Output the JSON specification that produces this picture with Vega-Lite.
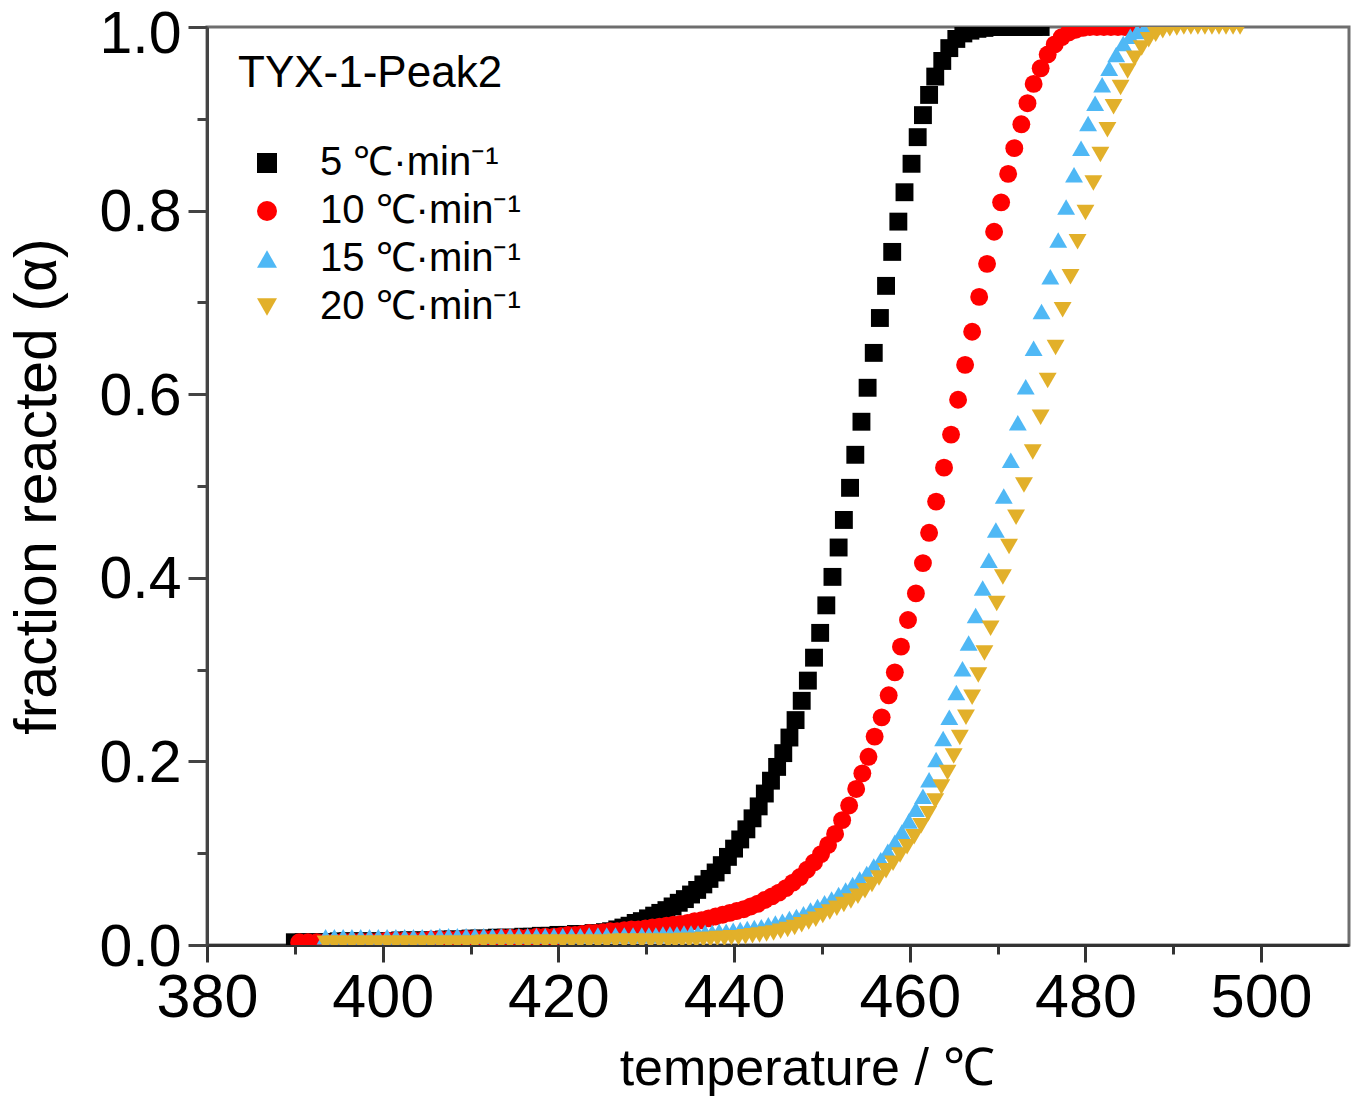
{
"$schema":"https://vega.github.io/schema/vega-lite/v6.json",
"width":1142,"height":918,
"autosize":{"type":"none"},
"padding":{"left":207,"top":27,"right":19,"bottom":165},
"background":"white",
"config":{"view":{"stroke":"#6e6e6e","strokeWidth":3}},
"data":{"values":[
{"r":"5","T":390.0,"a":0.003},{"r":"5","T":391,"a":0.003},{"r":"5","T":392,"a":0.003},{"r":"5","T":393,"a":0.003},{"r":"5","T":394,"a":0.003},{"r":"5","T":395,"a":0.004},{"r":"5","T":396,"a":0.004},{"r":"5","T":397,"a":0.004},{"r":"5","T":398,"a":0.004},{"r":"5","T":399,"a":0.004},{"r":"5","T":400,"a":0.004},{"r":"5","T":401,"a":0.004},{"r":"5","T":402,"a":0.005},{"r":"5","T":403,"a":0.005},{"r":"5","T":404,"a":0.005},{"r":"5","T":405,"a":0.005},{"r":"5","T":406,"a":0.005},{"r":"5","T":407,"a":0.006},{"r":"5","T":408,"a":0.006},{"r":"5","T":409,"a":0.006},{"r":"5","T":410,"a":0.007},{"r":"5","T":411,"a":0.007},{"r":"5","T":412,"a":0.007},{"r":"5","T":413,"a":0.008},{"r":"5","T":414,"a":0.008},{"r":"5","T":415,"a":0.008},{"r":"5","T":416,"a":0.009},{"r":"5","T":417,"a":0.009},{"r":"5","T":418,"a":0.010},{"r":"5","T":419,"a":0.010},{"r":"5","T":420,"a":0.011},{"r":"5","T":421,"a":0.011},{"r":"5","T":422,"a":0.012},{"r":"5","T":423,"a":0.012},{"r":"5","T":424,"a":0.013},
{"r":"5","T":425.3,"a":0.014},{"r":"5","T":426.0,"a":0.015},{"r":"5","T":426.7,"a":0.017},{"r":"5","T":427.4,"a":0.019},{"r":"5","T":428.1,"a":0.021},{"r":"5","T":428.8,"a":0.024},{"r":"5","T":429.5,"a":0.026},{"r":"5","T":430.2,"a":0.029},{"r":"5","T":430.9,"a":0.032},{"r":"5","T":431.6,"a":0.035},{"r":"5","T":432.3,"a":0.038},{"r":"5","T":433.0,"a":0.042},{"r":"5","T":433.7,"a":0.046},{"r":"5","T":434.4,"a":0.050},{"r":"5","T":435.1,"a":0.055},{"r":"5","T":435.8,"a":0.060},{"r":"5","T":436.5,"a":0.066},{"r":"5","T":437.2,"a":0.072},{"r":"5","T":437.9,"a":0.079},{"r":"5","T":438.6,"a":0.087},{"r":"5","T":439.3,"a":0.096},{"r":"5","T":440.0,"a":0.105},{"r":"5","T":440.7,"a":0.115},{"r":"5","T":441.4,"a":0.126},{"r":"5","T":442.1,"a":0.138},{"r":"5","T":442.8,"a":0.151},{"r":"5","T":443.5,"a":0.165},{"r":"5","T":444.2,"a":0.179},{"r":"5","T":444.9,"a":0.194},{"r":"5","T":445.6,"a":0.209},{"r":"5","T":446.3,"a":0.226},{"r":"5","T":447.0,"a":0.245},{"r":"5","T":447.7,"a":0.266},{"r":"5","T":448.4,"a":0.288},{"r":"5","T":449.1,"a":0.313},{"r":"5","T":449.8,"a":0.340},{"r":"5","T":450.5,"a":0.370},{"r":"5","T":451.2,"a":0.401},{"r":"5","T":451.9,"a":0.433},{"r":"5","T":452.5,"a":0.463},{"r":"5","T":453.2,"a":0.498},{"r":"5","T":453.8,"a":0.534},{"r":"5","T":454.5,"a":0.570},{"r":"5","T":455.2,"a":0.607},{"r":"5","T":455.9,"a":0.645},{"r":"5","T":456.6,"a":0.683},{"r":"5","T":457.3,"a":0.718},{"r":"5","T":458.0,"a":0.755},{"r":"5","T":458.7,"a":0.788},{"r":"5","T":459.4,"a":0.820},{"r":"5","T":460.2,"a":0.851},{"r":"5","T":460.9,"a":0.880},{"r":"5","T":461.5,"a":0.904},{"r":"5","T":462.2,"a":0.926},{"r":"5","T":462.9,"a":0.946},{"r":"5","T":463.7,"a":0.963},{"r":"5","T":464.5,"a":0.977},{"r":"5","T":465.3,"a":0.987},{"r":"5","T":466.1,"a":0.993},{"r":"5","T":466.9,"a":0.996},{"r":"5","T":467.7,"a":0.998},{"r":"5","T":468.5,"a":0.999},{"r":"5","T":469.3,"a":1.0},{"r":"5","T":470.1,"a":1.0},{"r":"5","T":470.9,"a":1.0},{"r":"5","T":471.7,"a":1.0},{"r":"5","T":472.5,"a":1.0},{"r":"5","T":473.3,"a":1.0},{"r":"5","T":474.1,"a":1.0},{"r":"5","T":474.9,"a":1.0},
{"r":"10","T":390.5,"a":0.003},{"r":"10","T":391.5,"a":0.003},{"r":"10","T":392.5,"a":0.003},{"r":"10","T":393.5,"a":0.003},{"r":"10","T":394.5,"a":0.003},{"r":"10","T":395.5,"a":0.004},{"r":"10","T":396.5,"a":0.004},{"r":"10","T":397.5,"a":0.004},{"r":"10","T":398.5,"a":0.004},{"r":"10","T":399.5,"a":0.004},{"r":"10","T":400.5,"a":0.005},{"r":"10","T":401.5,"a":0.005},{"r":"10","T":402.5,"a":0.005},{"r":"10","T":403.5,"a":0.005},{"r":"10","T":404.5,"a":0.005},{"r":"10","T":405.5,"a":0.006},{"r":"10","T":406.5,"a":0.006},{"r":"10","T":407.5,"a":0.006},{"r":"10","T":408.5,"a":0.006},{"r":"10","T":409.5,"a":0.007},{"r":"10","T":410.5,"a":0.007},{"r":"10","T":411.5,"a":0.007},{"r":"10","T":412.5,"a":0.007},{"r":"10","T":413.5,"a":0.008},{"r":"10","T":414.5,"a":0.008},{"r":"10","T":415.5,"a":0.008},{"r":"10","T":416.5,"a":0.008},{"r":"10","T":417.5,"a":0.009},{"r":"10","T":418.5,"a":0.009},{"r":"10","T":419.5,"a":0.009},
{"r":"10","T":420.3,"a":0.010},{"r":"10","T":421.1,"a":0.011},{"r":"10","T":421.9,"a":0.011},{"r":"10","T":422.7,"a":0.012},{"r":"10","T":423.5,"a":0.013},{"r":"10","T":424.3,"a":0.013},{"r":"10","T":425.1,"a":0.014},{"r":"10","T":425.9,"a":0.015},{"r":"10","T":426.7,"a":0.015},{"r":"10","T":427.5,"a":0.016},{"r":"10","T":428.3,"a":0.017},{"r":"10","T":429.1,"a":0.017},{"r":"10","T":429.9,"a":0.018},{"r":"10","T":430.7,"a":0.019},{"r":"10","T":431.5,"a":0.020},{"r":"10","T":432.3,"a":0.021},{"r":"10","T":433.1,"a":0.022},{"r":"10","T":433.9,"a":0.023},{"r":"10","T":434.7,"a":0.024},{"r":"10","T":435.5,"a":0.026},{"r":"10","T":436.3,"a":0.027},{"r":"10","T":437.1,"a":0.029},{"r":"10","T":437.9,"a":0.031},{"r":"10","T":438.7,"a":0.033},{"r":"10","T":439.5,"a":0.035},{"r":"10","T":440.3,"a":0.037},{"r":"10","T":441.1,"a":0.039},{"r":"10","T":441.9,"a":0.042},{"r":"10","T":442.7,"a":0.045},{"r":"10","T":443.5,"a":0.049},{"r":"10","T":444.3,"a":0.053},{"r":"10","T":445.1,"a":0.057},{"r":"10","T":445.9,"a":0.062},{"r":"10","T":446.7,"a":0.068},{"r":"10","T":447.5,"a":0.074},{"r":"10","T":448.3,"a":0.082},{"r":"10","T":449.1,"a":0.090},{"r":"10","T":449.9,"a":0.099},{"r":"10","T":450.7,"a":0.109},{"r":"10","T":451.5,"a":0.121},{"r":"10","T":452.3,"a":0.136},{"r":"10","T":453.1,"a":0.152},{"r":"10","T":453.9,"a":0.170},{"r":"10","T":454.6,"a":0.187},{"r":"10","T":455.3,"a":0.205},{"r":"10","T":456.0,"a":0.227},{"r":"10","T":456.8,"a":0.248},{"r":"10","T":457.6,"a":0.272},{"r":"10","T":458.3,"a":0.297},{"r":"10","T":459.0,"a":0.325},{"r":"10","T":459.8,"a":0.354},{"r":"10","T":460.7,"a":0.383},{"r":"10","T":461.5,"a":0.416},{"r":"10","T":462.2,"a":0.449},{"r":"10","T":463.0,"a":0.483},{"r":"10","T":463.9,"a":0.520},{"r":"10","T":464.7,"a":0.556},{"r":"10","T":465.5,"a":0.594},{"r":"10","T":466.3,"a":0.632},{"r":"10","T":467.1,"a":0.668},{"r":"10","T":467.9,"a":0.706},{"r":"10","T":468.8,"a":0.742},{"r":"10","T":469.6,"a":0.777},{"r":"10","T":470.4,"a":0.809},{"r":"10","T":471.2,"a":0.840},{"r":"10","T":471.9,"a":0.868},{"r":"10","T":472.7,"a":0.894},{"r":"10","T":473.4,"a":0.917},{"r":"10","T":474.1,"a":0.938},{"r":"10","T":474.9,"a":0.955},{"r":"10","T":475.7,"a":0.970},{"r":"10","T":476.5,"a":0.981},{"r":"10","T":477.3,"a":0.989},{"r":"10","T":478.1,"a":0.994},{"r":"10","T":478.9,"a":0.997},{"r":"10","T":479.7,"a":0.999},{"r":"10","T":480.5,"a":1.0},{"r":"10","T":481.3,"a":1.0},{"r":"10","T":482.1,"a":1.0},{"r":"10","T":482.9,"a":1.0},{"r":"10","T":483.7,"a":1.0},{"r":"10","T":484.5,"a":1.0},{"r":"10","T":485.3,"a":1.0},
{"r":"15","T":393.5,"a":0.009},{"r":"15","T":394.5,"a":0.009},{"r":"15","T":395.5,"a":0.009},{"r":"15","T":396.5,"a":0.009},{"r":"15","T":397.5,"a":0.009},{"r":"15","T":398.5,"a":0.009},{"r":"15","T":399.5,"a":0.009},{"r":"15","T":400.5,"a":0.009},{"r":"15","T":401.5,"a":0.009},{"r":"15","T":402.5,"a":0.009},{"r":"15","T":403.5,"a":0.009},{"r":"15","T":404.5,"a":0.009},{"r":"15","T":405.5,"a":0.009},{"r":"15","T":406.5,"a":0.010},{"r":"15","T":407.5,"a":0.010},{"r":"15","T":408.5,"a":0.010},{"r":"15","T":409.5,"a":0.010},{"r":"15","T":410.5,"a":0.010},{"r":"15","T":411.5,"a":0.010},{"r":"15","T":412.5,"a":0.010},{"r":"15","T":413.5,"a":0.010},{"r":"15","T":414.5,"a":0.010},{"r":"15","T":415.5,"a":0.010},{"r":"15","T":416.5,"a":0.010},{"r":"15","T":417.5,"a":0.010},{"r":"15","T":418.5,"a":0.010},{"r":"15","T":419.5,"a":0.010},{"r":"15","T":420.5,"a":0.010},{"r":"15","T":421.5,"a":0.010},{"r":"15","T":422.5,"a":0.010},{"r":"15","T":423.5,"a":0.011},{"r":"15","T":424.5,"a":0.011},{"r":"15","T":425.5,"a":0.011},{"r":"15","T":426.5,"a":0.011},{"r":"15","T":427.5,"a":0.011},{"r":"15","T":428.5,"a":0.011},{"r":"15","T":429.5,"a":0.011},
{"r":"15","T":430.3,"a":0.011},{"r":"15","T":431.1,"a":0.011},{"r":"15","T":431.9,"a":0.012},{"r":"15","T":432.7,"a":0.012},{"r":"15","T":433.5,"a":0.012},{"r":"15","T":434.3,"a":0.013},{"r":"15","T":435.1,"a":0.013},{"r":"15","T":435.9,"a":0.013},{"r":"15","T":436.7,"a":0.014},{"r":"15","T":437.5,"a":0.014},{"r":"15","T":438.3,"a":0.015},{"r":"15","T":439.1,"a":0.015},{"r":"15","T":439.9,"a":0.016},{"r":"15","T":440.7,"a":0.017},{"r":"15","T":441.5,"a":0.018},{"r":"15","T":442.3,"a":0.019},{"r":"15","T":443.1,"a":0.020},{"r":"15","T":443.9,"a":0.022},{"r":"15","T":444.7,"a":0.024},{"r":"15","T":445.5,"a":0.026},{"r":"15","T":446.3,"a":0.029},{"r":"15","T":447.1,"a":0.031},{"r":"15","T":447.9,"a":0.034},{"r":"15","T":448.7,"a":0.038},{"r":"15","T":449.5,"a":0.042},{"r":"15","T":450.3,"a":0.046},{"r":"15","T":451.1,"a":0.050},{"r":"15","T":451.9,"a":0.055},{"r":"15","T":452.7,"a":0.060},{"r":"15","T":453.5,"a":0.066},{"r":"15","T":454.3,"a":0.072},{"r":"15","T":455.1,"a":0.078},{"r":"15","T":455.9,"a":0.086},{"r":"15","T":456.7,"a":0.093},{"r":"15","T":457.5,"a":0.102},{"r":"15","T":458.3,"a":0.112},{"r":"15","T":459.1,"a":0.123},{"r":"15","T":459.9,"a":0.135},{"r":"15","T":460.7,"a":0.148},{"r":"15","T":461.5,"a":0.162},{"r":"15","T":462.2,"a":0.180},{"r":"15","T":463.0,"a":0.202},{"r":"15","T":463.8,"a":0.225},{"r":"15","T":464.5,"a":0.248},{"r":"15","T":465.3,"a":0.275},{"r":"15","T":466.0,"a":0.301},{"r":"15","T":466.7,"a":0.329},{"r":"15","T":467.5,"a":0.359},{"r":"15","T":468.3,"a":0.389},{"r":"15","T":469.0,"a":0.419},{"r":"15","T":469.8,"a":0.452},{"r":"15","T":470.7,"a":0.489},{"r":"15","T":471.5,"a":0.528},{"r":"15","T":472.3,"a":0.569},{"r":"15","T":473.2,"a":0.608},{"r":"15","T":474.1,"a":0.650},{"r":"15","T":475.0,"a":0.690},{"r":"15","T":476.0,"a":0.728},{"r":"15","T":476.9,"a":0.768},{"r":"15","T":477.8,"a":0.804},{"r":"15","T":478.7,"a":0.839},{"r":"15","T":479.5,"a":0.868},{"r":"15","T":480.3,"a":0.895},{"r":"15","T":481.1,"a":0.917},{"r":"15","T":481.9,"a":0.937},{"r":"15","T":482.7,"a":0.955},{"r":"15","T":483.5,"a":0.970},{"r":"15","T":484.3,"a":0.982},{"r":"15","T":485.1,"a":0.990},{"r":"15","T":485.9,"a":0.995},{"r":"15","T":486.7,"a":0.998},{"r":"15","T":487.5,"a":1.0},
{"r":"20","T":393.5,"a":0.002},{"r":"20","T":394.5,"a":0.002},{"r":"20","T":395.5,"a":0.002},{"r":"20","T":396.5,"a":0.002},{"r":"20","T":397.5,"a":0.002},{"r":"20","T":398.5,"a":0.002},{"r":"20","T":399.5,"a":0.002},{"r":"20","T":400.5,"a":0.002},{"r":"20","T":401.5,"a":0.002},{"r":"20","T":402.5,"a":0.002},{"r":"20","T":403.5,"a":0.002},{"r":"20","T":404.5,"a":0.002},{"r":"20","T":405.5,"a":0.002},{"r":"20","T":406.5,"a":0.002},{"r":"20","T":407.5,"a":0.002},{"r":"20","T":408.5,"a":0.002},{"r":"20","T":409.5,"a":0.002},{"r":"20","T":410.5,"a":0.002},{"r":"20","T":411.5,"a":0.003},{"r":"20","T":412.5,"a":0.003},{"r":"20","T":413.5,"a":0.003},{"r":"20","T":414.5,"a":0.003},{"r":"20","T":415.5,"a":0.003},{"r":"20","T":416.5,"a":0.003},{"r":"20","T":417.5,"a":0.003},{"r":"20","T":418.5,"a":0.003},{"r":"20","T":419.5,"a":0.003},{"r":"20","T":420.5,"a":0.003},{"r":"20","T":421.5,"a":0.003},{"r":"20","T":422.5,"a":0.003},{"r":"20","T":423.5,"a":0.003},{"r":"20","T":424.5,"a":0.003},{"r":"20","T":425.5,"a":0.003},{"r":"20","T":426.5,"a":0.004},{"r":"20","T":427.5,"a":0.004},{"r":"20","T":428.5,"a":0.004},{"r":"20","T":429.5,"a":0.004},{"r":"20","T":430.5,"a":0.004},{"r":"20","T":431.5,"a":0.004},{"r":"20","T":432.5,"a":0.004},
{"r":"20","T":433.3,"a":0.004},{"r":"20","T":434.1,"a":0.005},{"r":"20","T":434.9,"a":0.005},{"r":"20","T":435.7,"a":0.005},{"r":"20","T":436.5,"a":0.006},{"r":"20","T":437.3,"a":0.006},{"r":"20","T":438.1,"a":0.007},{"r":"20","T":438.9,"a":0.007},{"r":"20","T":439.7,"a":0.008},{"r":"20","T":440.5,"a":0.008},{"r":"20","T":441.3,"a":0.009},{"r":"20","T":442.1,"a":0.010},{"r":"20","T":442.9,"a":0.011},{"r":"20","T":443.7,"a":0.012},{"r":"20","T":444.5,"a":0.013},{"r":"20","T":445.3,"a":0.015},{"r":"20","T":446.1,"a":0.017},{"r":"20","T":446.9,"a":0.019},{"r":"20","T":447.7,"a":0.022},{"r":"20","T":448.5,"a":0.025},{"r":"20","T":449.3,"a":0.028},{"r":"20","T":450.1,"a":0.032},{"r":"20","T":450.9,"a":0.036},{"r":"20","T":451.7,"a":0.040},{"r":"20","T":452.5,"a":0.044},{"r":"20","T":453.3,"a":0.048},{"r":"20","T":454.1,"a":0.053},{"r":"20","T":454.9,"a":0.059},{"r":"20","T":455.7,"a":0.066},{"r":"20","T":456.5,"a":0.073},{"r":"20","T":457.3,"a":0.081},{"r":"20","T":458.1,"a":0.089},{"r":"20","T":458.9,"a":0.098},{"r":"20","T":459.7,"a":0.107},{"r":"20","T":460.5,"a":0.118},{"r":"20","T":461.3,"a":0.130},{"r":"20","T":462.1,"a":0.143},{"r":"20","T":462.9,"a":0.157},{"r":"20","T":463.6,"a":0.172},{"r":"20","T":464.3,"a":0.188},{"r":"20","T":465.0,"a":0.206},{"r":"20","T":465.7,"a":0.226},{"r":"20","T":466.4,"a":0.248},{"r":"20","T":467.1,"a":0.270},{"r":"20","T":467.8,"a":0.294},{"r":"20","T":468.5,"a":0.318},{"r":"20","T":469.2,"a":0.345},{"r":"20","T":469.9,"a":0.372},{"r":"20","T":470.6,"a":0.401},{"r":"20","T":471.3,"a":0.434},{"r":"20","T":472.1,"a":0.466},{"r":"20","T":473.0,"a":0.501},{"r":"20","T":474.0,"a":0.537},{"r":"20","T":474.9,"a":0.575},{"r":"20","T":475.7,"a":0.615},{"r":"20","T":476.6,"a":0.651},{"r":"20","T":477.4,"a":0.692},{"r":"20","T":478.3,"a":0.728},{"r":"20","T":479.1,"a":0.766},{"r":"20","T":480.0,"a":0.798},{"r":"20","T":480.9,"a":0.830},{"r":"20","T":481.7,"a":0.861},{"r":"20","T":482.5,"a":0.888},{"r":"20","T":483.2,"a":0.913},{"r":"20","T":484.0,"a":0.934},{"r":"20","T":484.8,"a":0.952},{"r":"20","T":485.6,"a":0.966},{"r":"20","T":486.4,"a":0.977},{"r":"20","T":487.2,"a":0.986},{"r":"20","T":488.0,"a":0.992},{"r":"20","T":488.8,"a":0.996},{"r":"20","T":489.6,"a":0.998},{"r":"20","T":490.4,"a":0.999},{"r":"20","T":491.2,"a":1.0},{"r":"20","T":492.0,"a":1.0},{"r":"20","T":492.8,"a":1.0},{"r":"20","T":493.6,"a":1.0},{"r":"20","T":494.4,"a":1.0},{"r":"20","T":495.2,"a":1.0},{"r":"20","T":496.0,"a":1.0},{"r":"20","T":496.8,"a":1.0},{"r":"20","T":497.6,"a":1.0}
]},
"mark":{"type":"point","filled":true,"opacity":1,"clip":true,"size":320},
"encoding":{
"x":{"field":"T","type":"quantitative","scale":{"domain":[380,510],"nice":false,"zero":false},
"axis":{"values":[380,390,400,410,420,430,440,450,460,470,480,490,500],"labelExpr":"datum.value % 20 === 0 ? datum.label : ''","title":"temperature / ℃","grid":false,"domainColor":"#333333","domainWidth":3,"tickColor":"#333333","tickWidth":3,"tickSize":{"condition":{"test":"datum.value % 20 === 0","value":17},"value":9},"labelFont":"Liberation Sans, Arial, sans-serif","labelFontSize":61,"labelColor":"#000000","labelPadding":6,"labelFlush":false,"labelOverlap":false,"titleFont":"Liberation Sans, Arial, sans-serif","titleFontSize":52,"titleFontWeight":"normal","titleColor":"#000000","titlePadding":15,"titleX":600,"titleAlign":"center"}},
"y":{"field":"a","type":"quantitative","scale":{"domain":[0,1],"nice":false,"zero":false},
"axis":{"values":[0,0.1,0.2,0.3,0.4,0.5,0.6,0.7,0.8,0.9,1.0],"labelExpr":"round(datum.value*10) % 2 === 0 ? format(datum.value, '.1f') : ''","title":"fraction reacted (α)","grid":false,"domainColor":"#444444","domainWidth":3,"tickColor":"#444444","tickWidth":3,"tickSize":{"condition":{"test":"round(datum.value*10) % 2 === 0","value":19},"value":10},"labelFont":"Liberation Sans, Arial, sans-serif","labelFontSize":59,"labelColor":"#000000","labelPadding":7,"labelOffset":{"condition":{"test":"datum.value >= 0.99","value":7},"value":2},"labelFlush":false,"labelOverlap":false,"titleFont":"Liberation Sans, Arial, sans-serif","titleFontSize":59,"titleFontWeight":"normal","titleColor":"#000000","titlePadding":31}},
"color":{"field":"r","type":"nominal","scale":{"domain":["5","10","15","20"],"range":["#000000","#ff0000","#4fb8f5","#e2b02a"]},
"legend":{"orient":"none","legendX":31,"legendY":25,"title":"TYX-1-Peak2","titleLimit":600,"titleFont":"Liberation Sans, Arial, sans-serif","titleFontSize":44,"titleFontWeight":"normal","titleColor":"#000000","titlePadding":47,"labelFont":"Liberation Sans, Arial, sans-serif","labelFontSize":40,"labelColor":"#000000","labelExpr":"datum.label + ' ℃·min⁻¹'","symbolSize":400,"symbolOffset":9,"symbolStrokeWidth":0,"labelOffset":33,"rowPadding":8,"padding":0,"labelLimit":400}},
"shape":{"field":"r","type":"nominal","scale":{"domain":["5","10","15","20"],"range":["square","circle","triangle-up","triangle-down"]}}
}
}
